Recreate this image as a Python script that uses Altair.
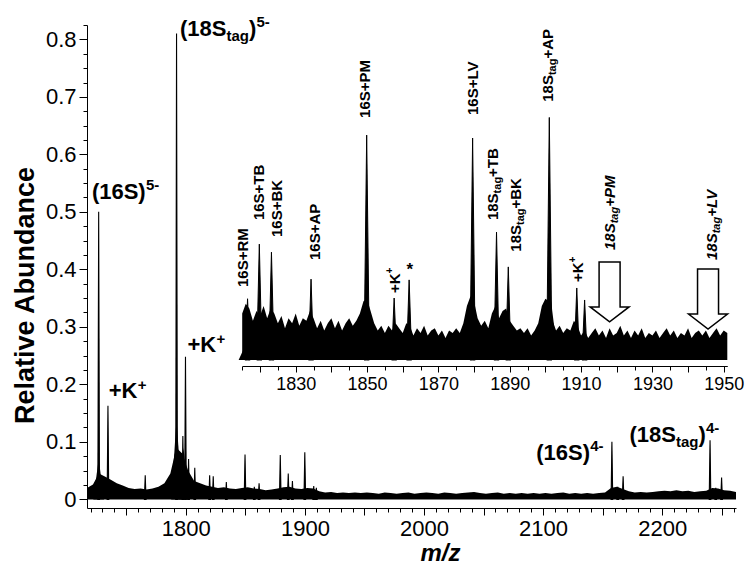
import altair as alt
import pandas as pd

FONT = "Liberation Sans"

# ---------------- main spectrum data ----------------
main_mz = list(range(1717, 2263, 5))
main_noise = [
    0.020, 0.026, 0.045, 0.040, 0.034, 0.028, 0.024, 0.020, 0.018, 0.019,
    0.017, 0.019, 0.022, 0.028, 0.045, 0.090, 0.080, 0.050, 0.032, 0.028,
    0.024, 0.022, 0.020, 0.021, 0.019, 0.018, 0.020, 0.021, 0.019, 0.018,
    0.016, 0.017, 0.019, 0.021, 0.022, 0.019, 0.018, 0.020, 0.019, 0.014,
    0.012, 0.013, 0.011, 0.012, 0.011, 0.012, 0.011, 0.012, 0.011, 0.010,
    0.012, 0.011, 0.010, 0.011, 0.012, 0.010, 0.011, 0.012, 0.011, 0.010,
    0.012, 0.011, 0.010, 0.011, 0.012, 0.013, 0.011, 0.010, 0.011, 0.012,
    0.010, 0.011, 0.010, 0.011, 0.010, 0.011, 0.010, 0.011, 0.010, 0.011,
    0.012, 0.010, 0.011, 0.010, 0.011, 0.010, 0.011,
    0.012, 0.020, 0.022, 0.018, 0.014, 0.012, 0.013, 0.012, 0.013, 0.014,
    0.015, 0.014, 0.016, 0.014, 0.015, 0.013, 0.014, 0.015, 0.020, 0.019,
    0.016, 0.015, 0.013,
]
main_peak_mz = [1726.8, 1734.6, 1765.9, 1792.2, 1797.5, 1799.7, 1802.3, 1807.5,
                1820.0, 1823.0, 1834.0, 1849.7, 1857.5, 1861.5, 1879.3, 1886.0,
                1889.5, 1899.9, 1907.4, 1909.6, 2157.8, 2162.7, 2167.2, 2240.2,
                2245.0, 2249.9]
main_peak_h = [0.500, 0.163, 0.042, 0.810, 0.110, 0.248, 0.070, 0.055,
               0.042, 0.040, 0.030, 0.078, 0.022, 0.028, 0.077, 0.045,
               0.032, 0.082, 0.023, 0.020, 0.100, 0.022, 0.040, 0.103,
               0.020, 0.038]
main_base_mz = [1726.8, 1792.2, 1798.0]
main_base_h = [0.070, 0.140, 0.090]

# ---------------- inset data ----------------
inset_mz = list(range(1815, 1952))
inset_noise = [
    0.19, 0.23, 0.21, 0.16, 0.20, 0.18, 0.22, 0.17, 0.21, 0.19,
    0.15, 0.18, 0.13, 0.17, 0.15, 0.19, 0.14, 0.17, 0.16, 0.20,
    0.17, 0.13, 0.16, 0.12, 0.15, 0.17, 0.13, 0.16, 0.12, 0.15,
    0.17, 0.14, 0.16, 0.19, 0.24, 0.25, 0.20, 0.15, 0.12, 0.14,
    0.11, 0.14, 0.12, 0.15, 0.13, 0.11, 0.15, 0.14, 0.10, 0.13,
    0.11, 0.14, 0.10, 0.12, 0.13, 0.10, 0.12, 0.09, 0.12, 0.11,
    0.13, 0.11, 0.15, 0.22, 0.26, 0.24, 0.17, 0.14, 0.16, 0.13,
    0.19, 0.22, 0.17, 0.20, 0.21, 0.16, 0.14, 0.12, 0.13, 0.11,
    0.13, 0.10, 0.12, 0.15, 0.22, 0.25, 0.24, 0.16, 0.12, 0.14,
    0.11, 0.13, 0.12, 0.16, 0.14, 0.10, 0.12, 0.09, 0.11, 0.13,
    0.10, 0.12, 0.09, 0.13, 0.10, 0.11, 0.14, 0.10, 0.12, 0.09,
    0.12, 0.10, 0.13, 0.09, 0.11, 0.10, 0.12, 0.09, 0.11, 0.13,
    0.10, 0.12, 0.09, 0.11, 0.10, 0.13, 0.09, 0.11, 0.12, 0.10,
    0.12, 0.09, 0.11, 0.13, 0.10, 0.12, 0.11,
]
inset_peak_mz = [1816.5, 1819.8, 1823.2, 1834.3, 1849.9, 1857.6, 1861.8,
                 1879.6, 1886.3, 1889.6, 1901.1, 1908.8, 1911.0]
inset_peak_h = [0.25, 0.473, 0.44, 0.33, 0.918, 0.253, 0.327,
                0.906, 0.522, 0.38, 0.99, 0.294, 0.245]
inset_base_h = [0.08, 0.15, 0.14, 0.11, 0.28, 0.08, 0.11,
                0.28, 0.17, 0.13, 0.30, 0.09, 0.03]

arrow_mz = [1918.0, 1945.6]
arrow_v = [0.278, 0.249]

# tick positions
x_ticks_main = list(range(1720, 2261, 10))
y_ticks_main = [round(i * 0.025, 3) for i in range(34)]
x_ticks_inset = list(range(1815, 1951, 5))

# labels (main)
main_label_text = ["(16S)", "+K", "+K", "(18S", "(16S)", "(18S"]
main_label_mz = [1721.1, 1735.2, 1801.4, 1795.0, 2094.2, 2172.5]
main_label_v = [0.523, 0.1757, 0.2557, 0.806, 0.068, 0.099]
# (label index, text, dx, dy, size)
main_label_pieces = [
    (0, "5-", 54, -9, 15),
    (1, "+", 29, -8, 15),
    (2, "+", 29, -8, 15),
    (3, "tag", 46.5, 5, 15), (3, ")", 69, 0, 22), (3, "5-", 76.5, -9, 15),
    (4, "4-", 54, -9, 15),
    (5, "tag", 46.5, 5, 15), (5, ")", 69, 0, 22), (5, "4-", 76.5, -9, 15),
]

# labels (inset, rotated)
inset_label_text = ["16S+RM", "16S+TB", "16S+BK", "16S+AP", "16S+PM", "16S+LV"]
inset_label_mz = [1815.2, 1819.8, 1824.7, 1835.4, 1849.4, 1879.6]
inset_label_v = [0.298, 0.571, 0.502, 0.408, 0.988, 1.0]

tag_suffix = ["+TB", "+BK", "+AP", "+PM", "+LV"]
tag_mz = [1885.4, 1891.7, 1900.8, 1918.1, 1946.6]
tag_v = [0.571, 0.442, 1.054, 0.449, 0.408]
tag_italic = [False, False, False, True, True]

k_mz = [1857.8, 1909.2]
k_v = [0.273, 0.318]
star_mz = [1862.0]
star_v = [0.367]

# ---------------- helpers ----------------
def triangles(mzs, hs, hw, prefix):
    rows = []
    for i, (m, h) in enumerate(zip(mzs, hs)):
        for xx, yy in ((m - hw, 0.0), (m, h), (m + hw, 0.0)):
            rows.append({"id": f"{prefix}{i}", "mz": xx, "v": yy})
    return pd.DataFrame(rows)


def MX():
    return alt.Scale(domain=[1717, 2262], nice=False, zero=False)


def MY():
    return alt.Scale(domain=[-0.015, 0.825], nice=False, zero=False)


def IX():
    return alt.Scale(domain=[1815, 1951], range=[155.2, 640.3], nice=False, zero=False)


def IY():
    return alt.Scale(domain=[0, 1], range=[335, 90], nice=False, zero=False)


x_axis_main = alt.Axis(
    values=x_ticks_main, format="d",
    labelExpr="datum.value % 100 === 0 ? datum.label : ''",
    tickSize={"condition": {"test": "datum.value % 50 === 0", "value": 7}, "value": 4},
    labelFontSize=22, labelFont=FONT, labelColor="black", labelPadding=3,
    labelOverlap=False, labelFlush=False, grid=False,
    domainColor="black", tickColor="black",
    title="m/z", titleFont=FONT, titleFontSize=24, titleFontStyle="italic",
    titleFontWeight="bold", titleColor="black", titleX=353, titleY=52.8,
    titleAlign="center", titleBaseline="alphabetic",
)
y_axis_main = alt.Axis(
    values=y_ticks_main,
    labelExpr="round(datum.value*1000) % 100 === 0 ? (datum.value === 0 ? '0' : format(datum.value, '.1f')) : ''",
    tickSize={"condition": {"test": "round(datum.value*1000) % 100 === 0", "value": 8}, "value": 4},
    labelFontSize=22, labelFont=FONT, labelColor="black", labelPadding=3,
    labelOverlap=False, labelFlush=False, grid=False,
    domainColor="black", tickColor="black",
    title="Relative Abundance", titleFont=FONT, titleFontSize=27, titleFontWeight="bold",
    titleColor="black", titleX=-62, titleY=270, titleAngle=270,
    titleAlign="center", titleBaseline="middle",
)
x_axis_inset = alt.Axis(
    orient="bottom", offset=-142, values=x_ticks_inset, format="d",
    labelExpr="(datum.value - 1830) % 20 === 0 ? datum.label : ''",
    tickSize={"condition": {"test": "datum.value % 10 === 0", "value": 6}, "value": 4},
    labelFontSize=18, labelFont=FONT, labelColor="black", labelPadding=3,
    labelOverlap=False, labelFlush=False, grid=False,
    domainColor="black", tickColor="black", title="",
)

layers = []

# ---------------- main layers ----------------
main_noise_df = pd.DataFrame({"mz": main_mz, "v": main_noise})
layers.append(alt.Chart(main_noise_df).mark_area(color="black").encode(
    x=alt.X("mz:Q", scale=MX(), axis=x_axis_main),
    y=alt.Y("v:Q", scale=MY(), axis=y_axis_main, stack=None),
    y2=alt.datum(0),
))
layers.append(alt.Chart(triangles(main_base_mz, main_base_h, 4.5, "b")).mark_area(
    color="black"
).encode(
    x=alt.X("mz:Q", scale=MX(), axis=None),
    y=alt.Y("v:Q", scale=MY(), axis=None, stack=None),
    y2=alt.datum(0),
    detail="id:N",
))
layers.append(alt.Chart(triangles(main_peak_mz, main_peak_h, 0.7, "p")).mark_area(
    fill="black", stroke="black", strokeWidth=1.1
).encode(
    x=alt.X("mz:Q", scale=MX(), axis=None),
    y=alt.Y("v:Q", scale=MY(), axis=None, stack=None),
    y2=alt.datum(0),
    detail="id:N",
))

main_lab_df = pd.DataFrame({"mz": main_label_mz, "v": main_label_v, "t": main_label_text})
layers.append(
    alt.Chart(main_lab_df).mark_text(
        align="left", baseline="alphabetic", font=FONT, fontSize=22,
        fontWeight="bold", color="black"
    ).encode(x=alt.X("mz:Q", scale=MX(), axis=None), y=alt.Y("v:Q", scale=MY(), axis=None), text="t:N")
)
for idx, txt, dx, dy, size in main_label_pieces:
    df = pd.DataFrame({"mz": [main_label_mz[idx]], "v": [main_label_v[idx]], "t": [txt]})
    layers.append(
        alt.Chart(df).mark_text(
            align="left", baseline="alphabetic", font=FONT, fontSize=size,
            fontWeight="bold", color="black", dx=dx, dy=dy
        ).encode(x=alt.X("mz:Q", scale=MX(), axis=None), y=alt.Y("v:Q", scale=MY(), axis=None), text="t:N")
    )

# ---------------- inset layers ----------------
inset_noise_df = pd.DataFrame({"mz": inset_mz, "v": inset_noise})
layers.append(alt.Chart(inset_noise_df).mark_area(color="black").encode(
    x=alt.X("mz:Q", scale=IX(), axis=x_axis_inset),
    y=alt.Y("v:Q", scale=IY(), axis=None, stack=None),
    y2=alt.datum(0),
))
layers.append(alt.Chart(triangles(inset_peak_mz, inset_base_h, 2.5, "c")).mark_area(
    color="black"
).encode(
    x=alt.X("mz:Q", scale=IX(), axis=None),
    y=alt.Y("v:Q", scale=IY(), axis=None, stack=None),
    y2=alt.datum(0),
    detail="id:N",
))
layers.append(alt.Chart(triangles(inset_peak_mz, inset_peak_h, 0.75, "q")).mark_area(
    fill="black", stroke="black", strokeWidth=1.0
).encode(
    x=alt.X("mz:Q", scale=IX(), axis=None),
    y=alt.Y("v:Q", scale=IY(), axis=None, stack=None),
    y2=alt.datum(0),
    detail="id:N",
))

ARROW = "M -0.35 -1 L 0.35 -1 L 0.35 0.5 L 0.65 0.5 L 0 1 L -0.65 0.5 L -0.35 0.5 Z"
layers.append(alt.Chart(pd.DataFrame({"mz": arrow_mz, "v": arrow_v})).mark_point(
    shape=ARROW, size=3600, filled=True, fill="white", stroke="black",
    strokeWidth=1.5, opacity=1
).encode(
    x=alt.X("mz:Q", scale=IX(), axis=None),
    y=alt.Y("v:Q", scale=IY(), axis=None),
))


def rot_text(mzs, vs, texts, dx=0, dy=0, size=15, italic=False):
    df = pd.DataFrame({"mz": mzs, "v": vs, "t": texts})
    return alt.Chart(df).mark_text(
        align="left", baseline="middle", angle=270, font=FONT, fontSize=size,
        fontWeight="bold", fontStyle="italic" if italic else "normal",
        color="black", dx=dx, dy=dy
    ).encode(
        x=alt.X("mz:Q", scale=IX(), axis=None),
        y=alt.Y("v:Q", scale=IY(), axis=None),
        text="t:N",
    )


layers.append(rot_text(inset_label_mz, inset_label_v, inset_label_text))
for i in range(len(tag_suffix)):
    it = tag_italic[i]
    layers.append(rot_text([tag_mz[i]], [tag_v[i]], ["18S"], italic=it))
    layers.append(rot_text([tag_mz[i]], [tag_v[i]], ["tag"], dx=26.7, dy=5, size=11, italic=it))
    layers.append(rot_text([tag_mz[i]], [tag_v[i]], [tag_suffix[i]], dx=43.2, italic=it))
layers.append(rot_text(k_mz, k_v, ["+K", "+K"]))
layers.append(rot_text(k_mz, k_v, ["+", "+"], dx=19.6, dy=-5, size=10))
layers.append(
    alt.Chart(pd.DataFrame({"mz": star_mz, "v": star_v, "t": ["*"]})).mark_text(
        align="center", baseline="middle", font=FONT, fontSize=17,
        fontWeight="bold", color="black"
    ).encode(x=alt.X("mz:Q", scale=IX(), axis=None), y=alt.Y("v:Q", scale=IY(), axis=None), text="t:N")
)

chart = alt.layer(*layers).resolve_scale(
    x="independent", y="independent"
).properties(
    width=649, height=483,
    autosize=alt.AutoSizeParams(type="none"),
    padding={"left": 79, "top": 17, "right": 11, "bottom": 58},
    background="white",
).configure_view(stroke=None)

chart.save("out.html", embed_options={"renderer": "svg", "actions": False})
